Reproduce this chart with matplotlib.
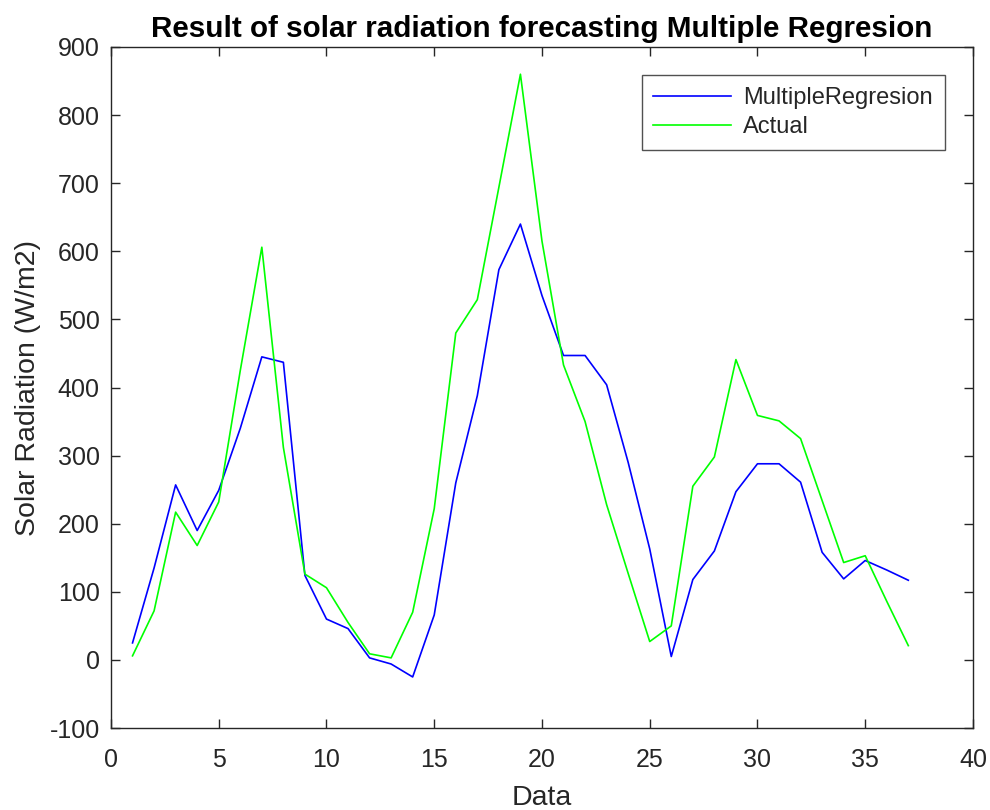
import matplotlib
matplotlib.use("Agg")
import matplotlib.pyplot as plt

plt.rcParams['font.family'] = ['Liberation Sans', 'DejaVu Sans']
plt.rcParams['axes.unicode_minus'] = False

data_index = list(range(1, 38))
multiple_regression = [25, 135, 257, 190, 249, 340, 445, 437, 124, 60, 46, 3, -6, -25, 66,
                       260, 388, 573, 640, 535, 447, 447, 404, 290, 163, 5, 118, 160, 247,
                       288, 288, 261, 158, 119, 146, 132, 117]
actual = [6, 72, 217, 168, 232, 425, 606, 312, 126, 106, 55, 9, 3, 70, 222,
          480, 529, 694, 860, 615, 433, 350, 228, 127, 27, 50, 255, 298, 441,
          359, 351, 325, 234, 143, 153, 86, 21]

x_ticks = [0, 5, 10, 15, 20, 25, 30, 35, 40]
y_ticks = [-100, 0, 100, 200, 300, 400, 500, 600, 700, 800, 900]

fig = plt.figure(figsize=(9.9, 8.1), dpi=100)
ax = fig.add_axes([0.1121, 0.1012, 0.9828 - 0.1121, 0.942 - 0.1012])

ax.plot(data_index, multiple_regression, color='#0000ff', lw=1.2, label='MultipleRegresion')
ax.plot(data_index, actual, color='#00ff00', lw=1.2, label='Actual')

ax.set_xlim(0, 40)
ax.set_ylim(-100, 900)
ax.set_xticks(x_ticks)
ax.set_yticks(y_ticks)

tick_color = '#262626'
ax.tick_params(direction='in', length=6.5, width=1.0, top=True, right=True,
               labelsize=18, colors=tick_color)
ax.tick_params(axis='x', pad=14.5)
ax.tick_params(axis='y', pad=8)
for s in ax.spines.values():
    s.set_color(tick_color)
    s.set_linewidth(1.0)

ax.set_xlabel('Data', fontsize=20.5, color=tick_color, labelpad=9)
ax.set_ylabel('Solar Radiation (W/m2)', fontsize=20.5, color=tick_color, labelpad=6)
ax.set_title('Result of solar radiation forecasting Multiple Regresion',
             fontsize=21.3, fontweight='bold', color='black', pad=7)

leg = ax.legend(loc='upper right', fontsize=17, frameon=True, fancybox=False,
                edgecolor=tick_color, handlelength=3.3, borderpad=0.5,
                labelspacing=0.3, borderaxespad=1.2, handletextpad=0.5)
leg.get_frame().set_linewidth(1.0)
for t in leg.get_texts():
    t.set_color(tick_color)

fig.savefig('out.png', dpi=100, facecolor='white')
